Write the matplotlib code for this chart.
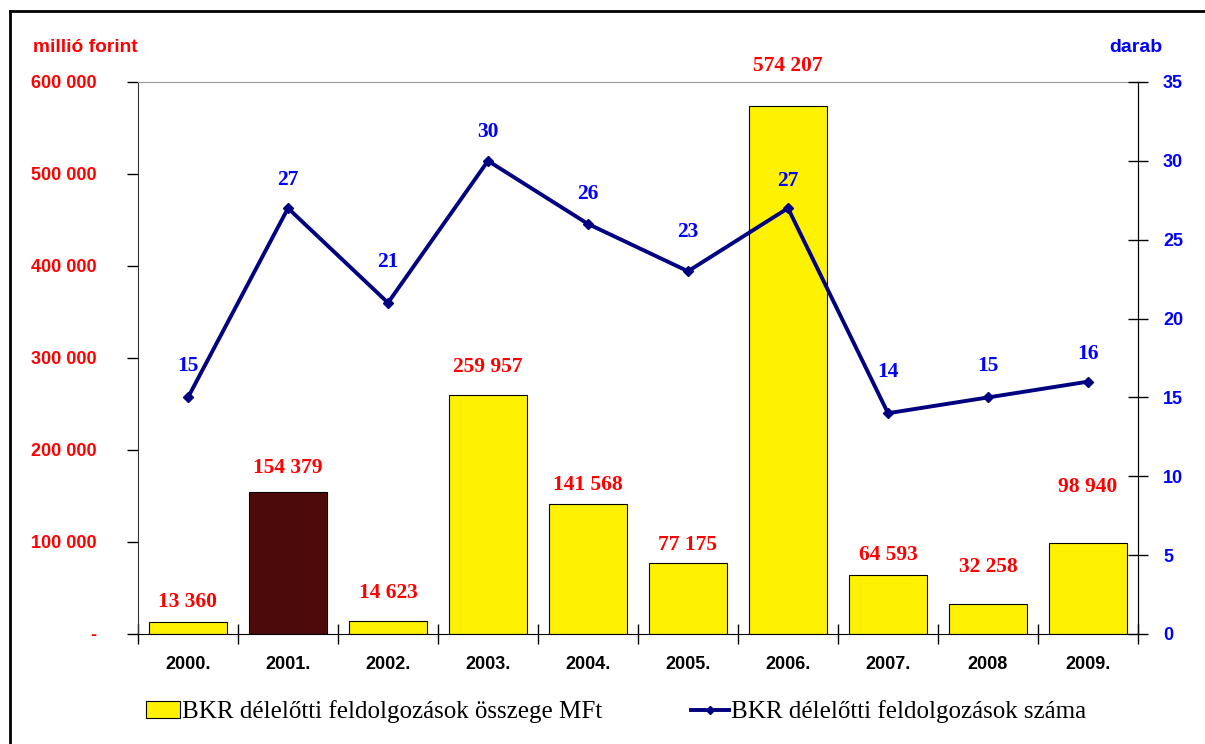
import matplotlib.pyplot as plt
from matplotlib.patches import Patch
from matplotlib.lines import Line2D

# Adatok
years = ["2000.", "2001.", "2002.", "2003.", "2004.", "2005.", "2006.", "2007.", "2008", "2009."]
amounts = [13360, 154379, 14623, 259957, 141568, 77175, 574207, 64593, 32258, 98940]
counts = [15, 27, 21, 30, 26, 23, 27, 14, 15, 16]
bar_colors = ["#FFF200", "#4D0A0A", "#FFF200", "#FFF200", "#FFF200",
              "#FFF200", "#FFF200", "#FFF200", "#FFF200", "#FFF200"]

# címkék eltolása (pixel)
bar_label_dy = [20, 24, 28, 28, 19, 18, 40, 20, 37, 56]
line_label_dy = [31, 28, 41, 29, 30, 39, 27, 41, 31, 28]

def fmt(v):
    return "{:,}".format(v).replace(",", " ")

fig = plt.figure(figsize=(12.05, 7.44), dpi=100)
ax = fig.add_axes([138 / 1205, 110 / 744, 1000 / 1205, 552 / 744])
x = list(range(len(years)))

ax.bar(x, amounts, width=0.78, color=bar_colors, edgecolor="black", linewidth=0.8, zorder=2)
ax.set_xlim(-0.5, 9.5)
ax.set_ylim(0, 600000)
ax.set_yticks(range(0, 600001, 100000))
ax.set_yticklabels(["-"] + [fmt(v) for v in range(100000, 600001, 100000)])
ax.set_xticks([i + 0.5 for i in range(-1, 10)], minor=False)
ax.set_xticklabels([])
ax.set_xticks(x, minor=True)
ax.set_xticklabels(years, minor=True)
ax.tick_params(axis="x", which="major", direction="inout", length=14, width=1, color="black")
ax.tick_params(axis="x", which="minor", length=0, pad=16)
ax.tick_params(axis="y", direction="out", length=8, width=1, pad=22, labelcolor="#FF0000")
for lab in ax.get_yticklabels() + ax.get_xticklabels(minor=True):
    lab.set_fontfamily("Liberation Sans")
    lab.set_fontweight("bold")
    lab.set_fontsize(13)
ax.spines["top"].set_color("#999999")
ax.spines["left"].set_color("#333333")

for i, v in enumerate(amounts):
    ax.annotate(fmt(v), (i, v), xytext=(0, bar_label_dy[i] * 0.72), textcoords="offset points",
                ha="center", va="center", color="#FF0000", fontsize=15.5,
                fontfamily="Liberation Serif", fontweight="bold", zorder=5)

ax2 = ax.twinx()
ax2.plot(x, counts, color="#000080", linewidth=2.8, marker="D", markersize=5, zorder=3)
ax2.set_ylim(0, 35)
ax2.set_yticks(range(0, 36, 5))
ax2.tick_params(axis="y", direction="inout", length=14, width=1, pad=11, labelcolor="#0000FF")
for lab in ax2.get_yticklabels():
    lab.set_fontfamily("Liberation Sans")
    lab.set_fontweight("bold")
    lab.set_fontsize(13)
ax2.spines["top"].set_visible(False)
ax2.spines["left"].set_visible(False)
ax2.spines["bottom"].set_visible(False)

for i, v in enumerate(counts):
    ax2.annotate(str(v), (i, v), xytext=(0, line_label_dy[i] * 0.72), textcoords="offset points",
                 ha="center", va="center", color="#0000FF", fontsize=15.5,
                 fontfamily="Liberation Serif", fontweight="bold")

fig.text(85 / 1205, 1 - 47 / 744, "millió forint", ha="center", va="center", color="#FF0000",
         fontsize=13.8, fontweight="bold", fontfamily="Liberation Sans")
fig.text(1136 / 1205, 1 - 47 / 744, "darab", ha="center", va="center", color="#0000FF",
         fontsize=14, fontweight="bold", fontfamily="Liberation Sans")

leg_font = {"family": "Liberation Serif", "size": 18}
h1 = Patch(facecolor="#FFF200", edgecolor="black", linewidth=0.8)
fig.legend(handles=[h1], labels=["BKR délelőtti feldolgozások összege MFt"], loc="center left",
           bbox_to_anchor=(146 / 1205, 32 / 744), frameon=False, prop=leg_font,
           handlelength=1.35, handleheight=0.7, handletextpad=0.1, borderpad=0, borderaxespad=0)
h2 = Line2D([], [], color="#000080", linewidth=2.8, marker="D", markersize=4)
fig.legend(handles=[h2], labels=["BKR délelőtti feldolgozások száma"], loc="center left",
           bbox_to_anchor=(691 / 1205, 32 / 744), frameon=False, prop=leg_font,
           handlelength=1.5, handletextpad=0.1, borderpad=0, borderaxespad=0)

# külső keret (bal és felső)
for xs, ys in [((10, 10), (0, 733)), ((10, 1205), (733, 733))]:
    fig.add_artist(Line2D([v / 1205 for v in xs], [v / 744 for v in ys], color="black", linewidth=2))

fig.savefig("out.png", dpi=100)
